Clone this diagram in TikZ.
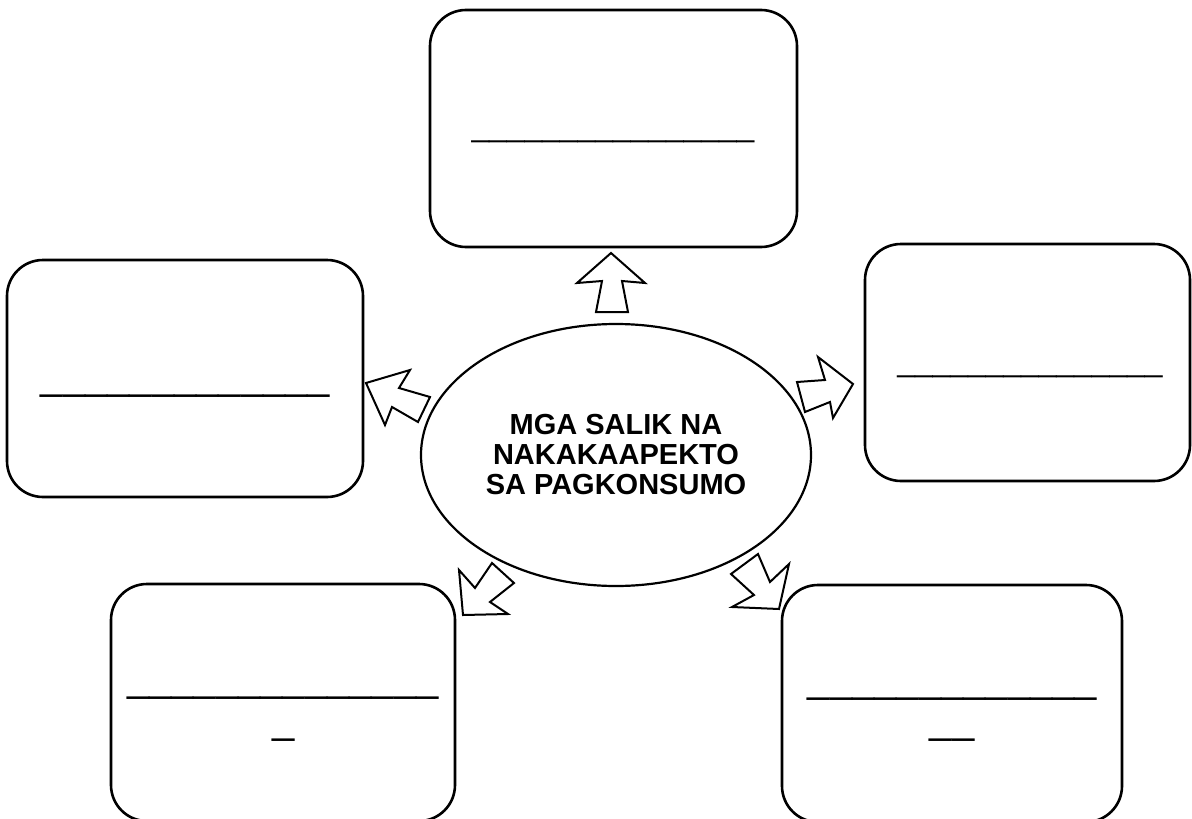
\documentclass[tikz,border=0pt]{standalone}
\usepackage{fontspec}
\setmainfont{Liberation Sans}
\usetikzlibrary{shapes.geometric}
\tikzset{
  box/.style={draw, line width=2.6pt, rounded corners=36pt, minimum height=237pt, inner sep=0pt},
  blank/.style={inner sep=0pt, anchor=base},
  smallu/.style={font=\fontsize{31.8}{32}\selectfont},
  bigu/.style={font=\fontsize{40}{42}\selectfont},
  barrow/.style={draw, line width=2pt, fill=white, line join=miter},
  hub/.style={draw, ellipse, line width=2.2pt, minimum width=390pt, minimum height=262pt,
    inner sep=0pt, align=center, font=\bfseries\fontsize{29}{30}\selectfont},
}
\begin{document}
\begin{tikzpicture}[x=1pt, y=-1pt]
\useasboundingbox (0,0) rectangle (1192,819);
% boxes
\node[box, minimum width=367pt] (top) at (613.5,128.5) {};
\node[box, minimum width=356pt] (left) at (185,378.5) {};
\node[box, minimum width=325pt] (right) at (1027.5,362.5) {};
\node[box, minimum width=344pt] (bl) at (283,702.5) {};
\node[box, minimum width=340pt] (br) at (952,703.5) {};
% centre
\node[hub] (hub) at (616,455) {MGA SALIK NA\\NAKAKAAPEKTO\\SA PAGKONSUMO};
% blanks
\node[blank, smallu] (topl) at (613,136.4) {\_\_\_\_\_\_\_\_\_\_\_\_\_\_\_\_};
\node[blank, bigu] (leftl) at (185.5,389.9) {\_\_\_\_\_\_\_\_\_\_\_\_\_};
\node[blank, smallu] (rightl) at (1030,371.4) {\_\_\_\_\_\_\_\_\_\_\_\_\_\_\_};
\node[blank, bigu] (bll) at (283,691.9) {\_\_\_\_\_\_\_\_\_\_\_\_\_\_};
\node[blank, bigu] (bll2) at (283.5,733.9) {\_};
\node[blank, bigu] (brl) at (952.5,692.9) {\_\_\_\_\_\_\_\_\_\_\_\_\_};
\node[blank, bigu] (brl2) at (952,733.9) {\_\_};
% block arrows
\draw[barrow] (611,253) -- (645,283) -- (622,281) -- (628,312) -- (596,312) -- (602,281) -- (577,283) -- cycle;
\draw[barrow] (366,383) -- (410,370) -- (399,388) -- (430,397) -- (418,422) -- (392,407) -- (385,425) -- cycle;
\draw[barrow] (853,384) -- (818,357) -- (825,380) -- (797,382) -- (805,412) -- (830,402) -- (833,418) -- cycle;
\draw[barrow] (463,615) -- (459,570) -- (475,588) -- (492,563) -- (514,583) -- (490,602) -- (508,614) -- cycle;
\draw[barrow] (779,609) -- (789,564) -- (770,582) -- (758,554) -- (731,574) -- (754,595) -- (732,607) -- cycle;
\end{tikzpicture}
\end{document}
